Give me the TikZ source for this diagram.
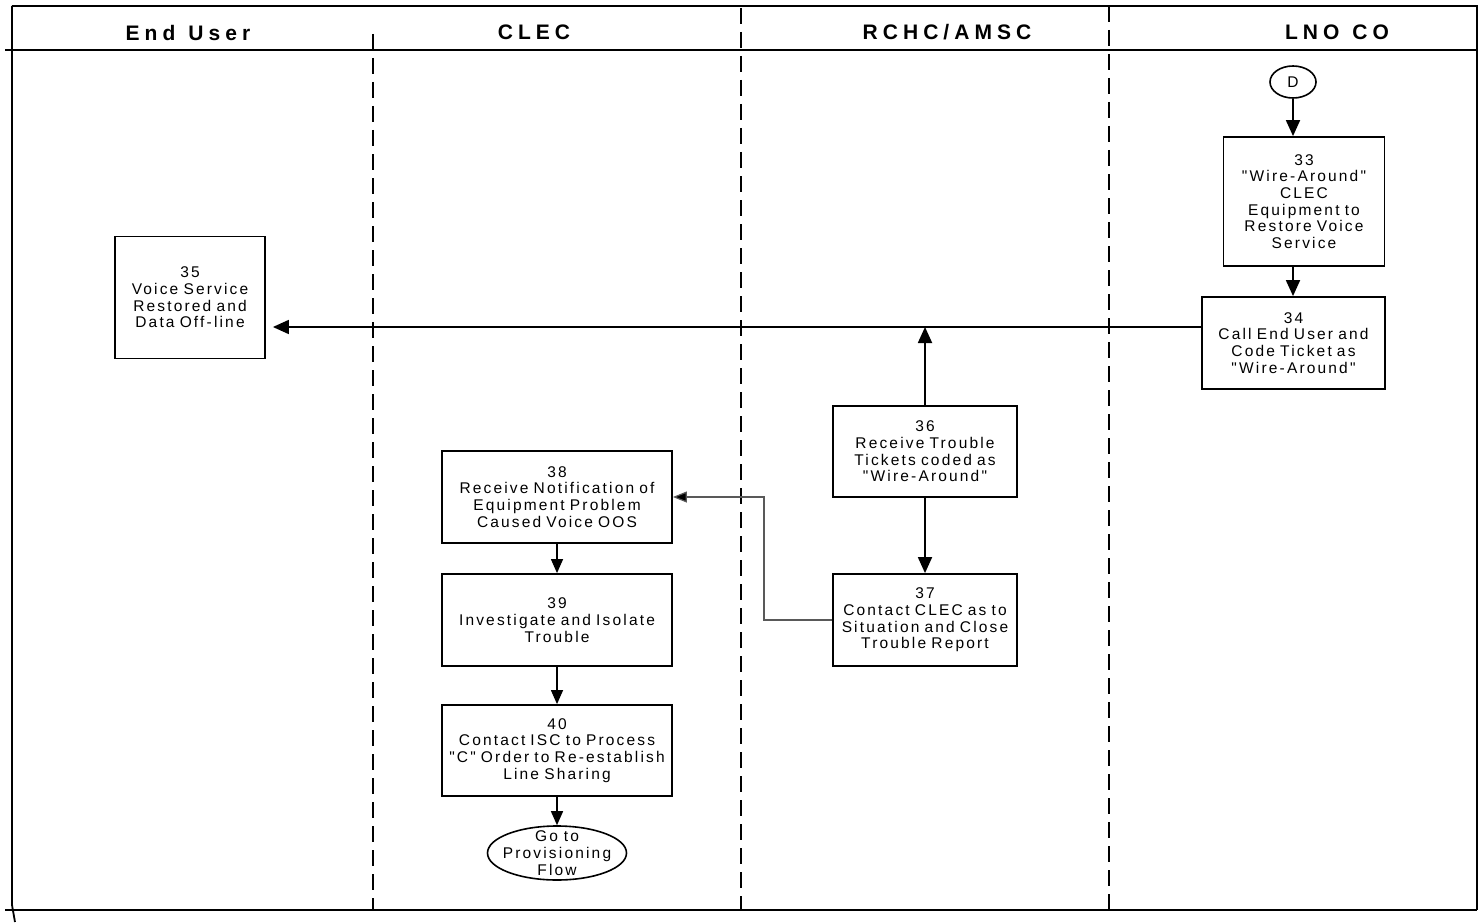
\documentclass[tikz,border=0pt]{standalone}
\usepackage{fontspec}
\setmainfont{Liberation Sans}
\newfontfamily\boxfont[LetterSpace=14]{Liberation Sans}
\newfontfamily\headfont[LetterSpace=24,WordSpace=1.2]{Liberation Sans}
\newcommand{\boxtxt}{\boxfont\fontsize{15.5}{16.7}\selectfont\spaceskip=6pt plus 2pt minus 1pt\relax}
\usetikzlibrary{arrows.meta,shapes.geometric}
\begin{document}
\begin{tikzpicture}[x=1pt,y=-1pt,
  frame/.style={line width=1.8pt,black},
  lane/.style={line width=1.6pt,black,dash pattern=on 16pt off 8pt},
  head/.style={font=\headfont\bfseries\fontsize{21}{23}\selectfont,inner sep=0pt},
  box/.style={draw,line width=1.8pt,inner sep=0pt,align=center,font=\boxtxt},
  term/.style={draw,ellipse,line width=1.6pt,inner sep=0pt,align=center,font=\boxtxt},
  arr/.style={line width=1.8pt,-{Triangle[length=16pt,width=14pt]}},
  tarr/.style={line width=1.3pt,-{Triangle[length=14pt,width=12pt]}},
  garr/.style={line width=1.2pt,draw=black!65,-{Triangle[length=14pt,width=11pt,fill=black]}}
]
\useasboundingbox (0,0) rectangle (1480,923);
% frame
\draw[frame] (12,6) -- (1477,6) -- (1477,910);
\draw[frame] (12,6) -- (12,905) -- (15,922);
\draw[frame] (5,50) -- (1477,50);
\draw[frame] (5,910) -- (1477,910);
% lanes
\draw[lane] (373,34) -- (373,910);
\draw[lane] (741,8) -- (741,910);
\draw[lane] (1109,6) -- (1109,910);
% headers
\node[head] (hEU) at (188,32.5) {End User};
\node[head] (hCL) at (534,32.5) {CLEC};
\node[head] (hRC) at (947,32.5) {RCHC/AMSC};
\node[head] (hLN) at (1337,32.5) {LNO CO};
% nodes
\node[term,minimum width=46pt,minimum height=32pt] (D) at (1293,82) {D};
\node[box,text width=161pt,minimum height=129pt] (b33) at (1304,201.5)
  {33\\"Wire-Around"\\CLEC\\Equipment to\\Restore Voice\\Service};
\node[box,text width=183pt,minimum height=92pt] (b34) at (1293.5,343)
  {34\\Call End User and\\Code Ticket as\\"Wire-Around"};
\node[box,text width=150pt,minimum height=122pt] (b35) at (190,297.5)
  {35\\Voice Service\\Restored and\\Data Off-line};
\node[box,text width=184pt,minimum height=91pt] (b36) at (925,451.5)
  {36\\Receive Trouble\\Tickets coded as\\"Wire-Around"};
\node[box,text width=184pt,minimum height=92pt] (b37) at (925,620)
  {37\\Contact CLEC as to\\Situation and Close\\Trouble Report};
\node[box,text width=230pt,minimum height=92pt] (b38) at (557,497)
  {38\\Receive Notification of\\Equipment Problem\\Caused Voice OOS};
\node[box,text width=230pt,minimum height=92pt] (b39) at (557,620)
  {39\\Investigate and Isolate\\Trouble};
\node[box,text width=230pt,minimum height=91pt] (b40) at (557,750.5)
  {40\\Contact ISC to Process\\"C" Order to Re-establish\\Line Sharing};
\node[term,inner xsep=-8pt,inner ysep=-6pt,minimum width=139pt,minimum height=54pt] (go) at (557,853)
  {Go to\\Provisioning\\Flow};
% connectors
\coordinate (L34) at ([yshift=16pt]b34.west);
\coordinate (L37) at (b37.west);
\coordinate (k1) at (764,620);
\coordinate (k2) at (764,497);
\draw[arr] (D) -- (D |- b33.north);
\draw[arr] (b34.north -| D) ++(0,-31) -- (b34.north -| D);
\draw[arr,shorten >=7pt] (L34) -- (L34 -| b35.east);
\draw[arr] (b36.north) -- (b36.north |- L34);
\draw[arr] (b36.south) -- (b37.north);
\draw[garr] (L37) -- (k1) -- (k2) -- (b38.east);
\draw[tarr] (b38.south) -- (b39.north);
\draw[tarr] (b39.south) -- (b40.north);
\draw[tarr] (b40.south) -- (b40.south |- go.north);
\end{tikzpicture}
\end{document}
